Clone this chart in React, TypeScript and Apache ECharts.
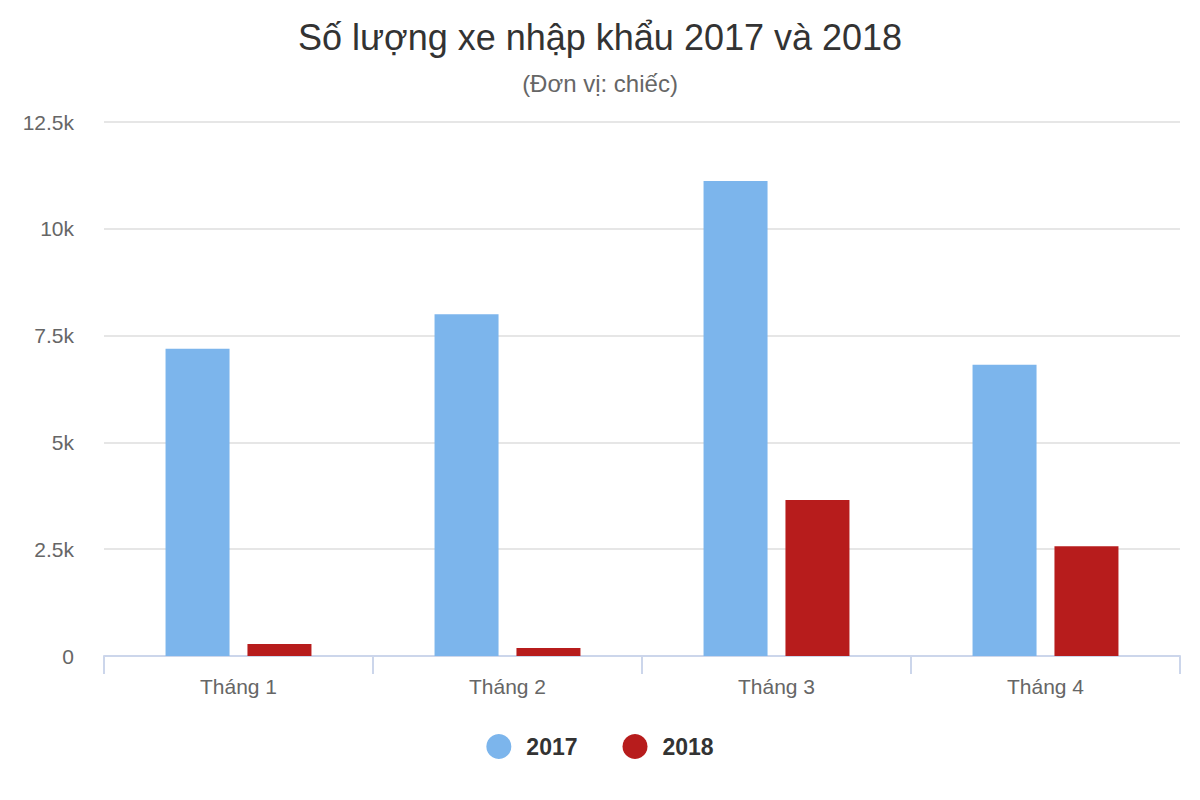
import React, { useEffect, useRef } from "react";
import * as echarts from "echarts";

const categories = ["Tháng 1", "Tháng 2", "Tháng 3", "Tháng 4"];
const series2017 = [7190, 8000, 11120, 6820];
const series2018 = [280, 190, 3650, 2570];
const yTicks = [0, 2500, 5000, 7500, 10000, 12500];
const yTickLabels = ["0", "2.5k", "5k", "7.5k", "10k", "12.5k"];

const FONT = "'Liberation Sans', Arial, sans-serif";

export default function App() {
  const ref = useRef<HTMLDivElement>(null);
  useEffect(() => {
    if (!ref.current) return;
    const chart = echarts.init(ref.current, null, { renderer: "svg" });
    chart.setOption({
      animation: false,
      textStyle: { fontFamily: FONT },
      title: {
        text: "Số lượng xe nhập khẩu 2017 và 2018",
        subtext: "(Đơn vị: chiếc)",
        left: "center",
        top: 14,
        itemGap: 16,
        textStyle: { fontFamily: FONT, fontSize: 36, fontWeight: "normal", color: "#333333" },
        subtextStyle: { fontFamily: FONT, fontSize: 24, color: "#666666" },
      },
      legend: {
        bottom: 36,
        left: "center",
        icon: "circle",
        itemWidth: 25,
        itemHeight: 25,
        itemGap: 45,
        textStyle: {
          fontFamily: FONT,
          fontSize: 23,
          fontWeight: "bold",
          color: "#333333",
          padding: [0, 0, 0, 10],
        },
        data: ["2017", "2018"],
      },
      grid: { left: 104, right: 20, top: 122, bottom: 144 },
      xAxis: {
        type: "category",
        data: categories,
        boundaryGap: true,
        axisLine: { lineStyle: { color: "#ccd6eb", width: 2 } },
        axisTick: { show: true, length: 18, lineStyle: { color: "#ccd6eb", width: 2 } },
        axisLabel: { fontFamily: FONT, fontSize: 21, color: "#666666", margin: 20 },
      },
      yAxis: {
        type: "value",
        min: 0,
        max: 12500,
        interval: 2500,
        axisLine: { show: false },
        axisTick: { show: false },
        splitLine: { lineStyle: { color: "#e6e6e6", width: 2 } },
        axisLabel: {
          fontFamily: FONT,
          fontSize: 21,
          color: "#666666",
          margin: 30,
          formatter: (v: number) => {
            const i = yTicks.indexOf(v);
            return i >= 0 ? yTickLabels[i] : "";
          },
        },
      },
      series: [
        {
          name: "2017",
          type: "bar",
          data: series2017,
          barWidth: 64,
          barGap: "28%",
          itemStyle: { color: "#7cb5ec" },
        },
        {
          name: "2018",
          type: "bar",
          data: series2018,
          barWidth: 64,
          barGap: "28%",
          itemStyle: { color: "#b71c1c" },
        },
      ],
    });
    return () => chart.dispose();
  }, []);
  return <div ref={ref} style={{ width: 1200, height: 800, margin: -8 }} />;
}
